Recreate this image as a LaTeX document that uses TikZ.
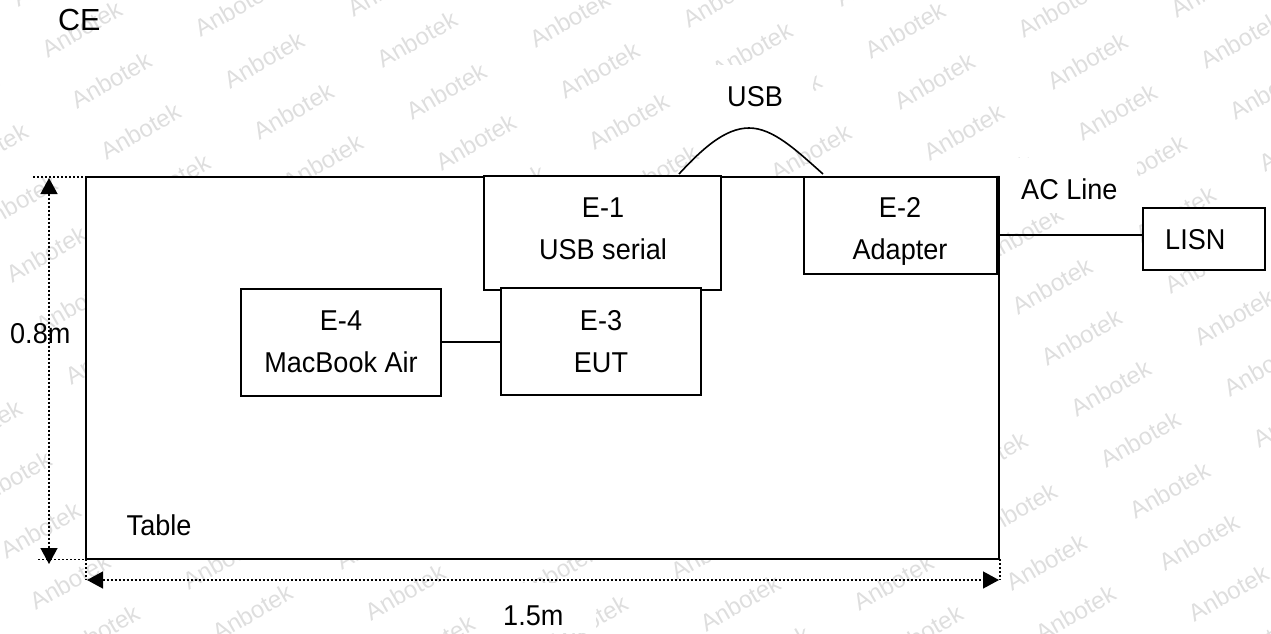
\documentclass[tikz,border=0pt]{standalone}
\usepackage{fontspec}
\setmainfont{Liberation Sans}
\usetikzlibrary{arrows.meta}
\newcommand{\tallText}[1]{\scalebox{1.01}[1.07]{#1}}
\tikzset{
  unit/.style={x=1pt,y=-1pt},
  wmark/.style={text=black!13,font=\fontsize{24}{24}\selectfont,rotate=30,inner sep=0pt},
  patch/.style={fill=white,draw=none,inner sep=0pt,outer sep=0pt},
  boxnode/.style={draw=black,fill=white,line width=2pt,inner sep=0pt,outer sep=0pt},
  lbl/.style={anchor=base,inner sep=0pt,text=black,font=\fontsize{26.8}{30}\selectfont},
  lblw/.style={lbl,anchor=base west},
  wire/.style={draw=black,line width=1.6pt},
  dotline/.style={draw=black,line width=1.4pt,dash pattern=on 2pt off 2pt},
  dimline/.style={dotline,{Triangle[length=16pt,width=17pt]}-{Triangle[length=16pt,width=17pt]}}
}
\begin{document}
\begin{tikzpicture}[unit]
\useasboundingbox (0,0) rectangle (1271,633);
\begin{scope}
\clip (0,0) rectangle (1271,633);
\foreach \i in {-2,...,9}{
  \foreach \j in {-3,...,13}{
    \pgfmathsetmacro{\wx}{111+152.9*\i+29.4*\j}
    \pgfmathsetmacro{\wy}{80-20.3*\i+51.2*\j}
    \pgfmathtruncatemacro{\keep}{(\wx>-50)*(\wx<1320)*(\wy>-30)*(\wy<660)*(1-(\wx>130)*(\wx<955)*(\wy>205)*(\wy<530))}
    \ifnum\keep=1
      \node[wmark] (wm\i\j) at (\wx,\wy) {Anbotek};
    \fi
  }
}
\end{scope}
% white patches behind labels
\node[patch,minimum width=104pt,minimum height=62pt] (pusb) at (761,96) {};
\node[patch,minimum width=137pt,minimum height=55pt] (pac) at (1068.5,185.5) {};
\node[patch,minimum width=114pt,minimum height=50pt] (p15) at (539,608) {};
% table
\node[boxnode,minimum width=913pt,minimum height=382pt] (table) at (542.5,368) {};
% equipment boxes
\node[boxnode,minimum width=237pt,minimum height=114pt] (e1) at (602.5,233) {};
\node[boxnode,minimum width=200pt,minimum height=107pt] (e3) at (601,341.5) {};
\node[boxnode,minimum width=200pt,minimum height=107pt] (e4) at (341,342.5) {};
\node[boxnode,minimum width=193pt,minimum height=97.5pt] (e2) at (900.5,225.25) {};
\node[boxnode,minimum width=121.5pt,minimum height=62pt] (lisn) at (1203.75,239) {};
% connectors
\draw[wire] (e4.east |- 0,342) -- (e3.west |- 0,342);
\draw[wire] (table.east |- 0,235) -- (lisn.west |- 0,235);
\coordinate (usbA) at (679,174);
\coordinate (usbP) at (749,128);
\coordinate (usbB) at (823,174);
\draw[wire] (usbA) .. controls (702,149) and (725,128) .. (usbP) .. controls (773,128) and (796,150) .. (usbB);
% dimension lines
\coordinate (tl1) at (33,177);  \coordinate (tl2) at (100,177);
\coordinate (bl1) at (38,559.5);\coordinate (bl2) at (108,559.5);
\coordinate (vtop) at (49,178); \coordinate (vbot) at (49,564);
\coordinate (hl) at (87,580);   \coordinate (hr) at (999,580);
\coordinate (ll1) at (86,559);  \coordinate (rl1) at (1000,559);
\draw[dotline] (tl1) -- (tl2);
\draw[dotline] (bl1) -- (bl2);
\draw[dimline] (vtop) -- (vbot);
\draw[dimline] (hl) -- (hr);
\draw[dotline] (ll1) -- (ll1 |- hl);
\draw[dotline] (rl1) -- (rl1 |- hr);
% labels
\node[lblw,font=\fontsize{30.5}{32}\selectfont] (tce) at (58,30) {CE};
\node[lblw] (tusb) at (727,106) {\tallText{USB}};
\node[lblw] (tac) at (1021,199) {\tallText{AC Line}};
\node[lblw] (tlisn) at (1165,249) {\tallText{LISN}};
\node[lblw] (t08) at (10,343) {\tallText{0.8m}};
\node[lblw] (ttab) at (126.5,535) {\tallText{Table}};
\node[lblw] (t15) at (503,625) {\tallText{1.5m}};
\node[lbl] (te1a) at (603,217) {\tallText{E-1}};
\node[lbl] (te1b) at (603,259) {\tallText{USB serial}};
\node[lbl] (te2a) at (900,217) {\tallText{E-2}};
\node[lbl] (te2b) at (900,259) {\tallText{Adapter}};
\node[lbl] (te3a) at (601,330) {\tallText{E-3}};
\node[lbl] (te3b) at (601,372) {\tallText{EUT}};
\node[lbl] (te4a) at (341,330) {\tallText{E-4}};
\node[lbl] (te4b) at (341,372) {\tallText{MacBook Air}};
\end{tikzpicture}
\end{document}
